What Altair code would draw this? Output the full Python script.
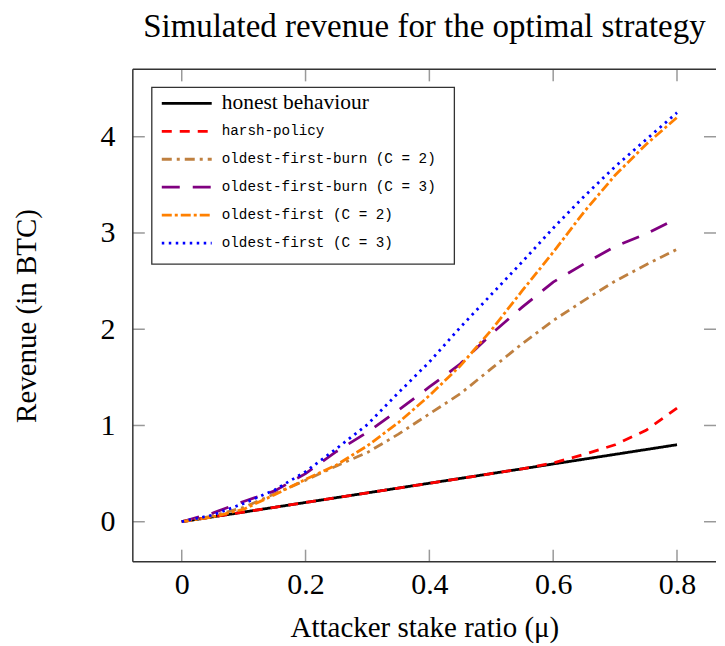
import altair as alt
import pandas as pd

# ---- data ----
mu = [0.0, 0.05, 0.1, 0.15, 0.2, 0.25, 0.3, 0.35, 0.4, 0.45, 0.5, 0.55, 0.6, 0.65, 0.7, 0.75, 0.8]

honest = [0.0, 0.05, 0.1, 0.15, 0.2, 0.25, 0.3, 0.35, 0.4, 0.45, 0.5, 0.55, 0.6, 0.65, 0.7, 0.75, 0.8]
harsh = [0.0, 0.05, 0.1, 0.15, 0.2, 0.25, 0.3, 0.35, 0.4, 0.45, 0.5, 0.55, 0.61, 0.70, 0.80, 0.95, 1.18]
ofb2 = [0.0, 0.06, 0.15, 0.29, 0.43, 0.58, 0.72, 0.91, 1.12, 1.33, 1.59, 1.85, 2.09, 2.30, 2.50, 2.67, 2.83]
ofb3 = [0.0, 0.09, 0.21, 0.32, 0.50, 0.73, 0.93, 1.16, 1.40, 1.64, 1.95, 2.23, 2.49, 2.68, 2.86, 2.99, 3.15]
of2 = [0.0, 0.05, 0.13, 0.28, 0.44, 0.59, 0.79, 1.03, 1.31, 1.62, 1.99, 2.40, 2.80, 3.22, 3.60, 3.92, 4.20]
of3 = [0.0, 0.07, 0.19, 0.33, 0.52, 0.76, 1.01, 1.34, 1.66, 2.02, 2.36, 2.70, 3.05, 3.38, 3.69, 3.97, 4.25]

names = [
    "honest behaviour",
    "harsh-policy",
    "oldest-first-burn (C = 2)",
    "oldest-first-burn (C = 3)",
    "oldest-first (C = 2)",
    "oldest-first (C = 3)",
]
series_values = [honest, harsh, ofb2, ofb3, of2, of3]
colors = ["#000000", "#ff0000", "#bf8040", "#800080", "#ff8000", "#0000ff"]
dashes = [[1, 0], [10, 8], [10, 5, 3, 5], [18, 13], [10, 3, 3, 3], [2.5, 4.5]]

x_ticks = [0, 0.2, 0.4, 0.6, 0.8]
y_ticks = [0, 1, 2, 3, 4]

rows = []
for name, vals in zip(names, series_values):
    for xv, yv in zip(mu, vals):
        rows.append({"series": name, "mu": xv, "rev": yv})
df = pd.DataFrame(rows)
legdf = pd.DataFrame({"series": names, "row": list(range(len(names)))})

W, H = 584, 493
SERIF = "Liberation Serif"
MONO = "Liberation Mono"

xscale = alt.Scale(domain=[-0.079, 0.863], nice=False, zero=False)
yscale = alt.Scale(domain=[-0.415, 4.70], nice=False, zero=False)
cscale = alt.Scale(domain=names, range=colors)
dscale = alt.Scale(domain=names, range=dashes)
# legend layout scale (row index -> pixel row centre inside the plot area)
rowscale = alt.Scale(domain=[0, len(names) - 1], range=[34, 174], nice=False, zero=False)

lines = alt.Chart(df).mark_line(strokeWidth=2.8, strokeCap="butt").encode(
    x=alt.X("mu:Q", scale=xscale, axis=alt.Axis(
        values=x_ticks, title="Attacker stake ratio (μ)", grid=False, domain=False,
        ticks=False, tickSize=0, labelPadding=8, titlePadding=14,
        labelFont=SERIF, labelFontSize=30, titleFont=SERIF, titleFontSize=29,
        titleFontWeight="normal", labelColor="#000", titleColor="#000",
        format=".1~f", labelFlush=False)),
    y=alt.Y("rev:Q", scale=yscale, axis=alt.Axis(
        values=y_ticks, title="Revenue (in BTC)", grid=False, domain=False,
        ticks=False, tickSize=0, labelPadding=18, titlePadding=58,
        labelFont=SERIF, labelFontSize=30, titleFont=SERIF, titleFontSize=29,
        titleFontWeight="normal", labelColor="#000", titleColor="#000",
        format="d", labelFlush=False)),
    color=alt.Color("series:N", scale=cscale, legend=None),
    strokeDash=alt.StrokeDash("series:N", scale=dscale, legend=None),
    order=alt.Order("mu:Q"),
)

xt = pd.DataFrame({"v": x_ticks})
yt = pd.DataFrame({"v": y_ticks})
one = pd.DataFrame({"a": [0]})
TICK = "#999999"

xb = alt.Chart(xt).mark_rule(color=TICK, strokeWidth=1.5).encode(
    x=alt.X("v:Q", scale=xscale), y=alt.value(H), y2=alt.value(H - 12))
xtp = alt.Chart(xt).mark_rule(color=TICK, strokeWidth=1.5).encode(
    x=alt.X("v:Q", scale=xscale), y=alt.value(0), y2=alt.value(12))
yl = alt.Chart(yt).mark_rule(color=TICK, strokeWidth=1.5).encode(
    y=alt.Y("v:Q", scale=yscale, axis=None), x=alt.value(0), x2=alt.value(12))
yr = alt.Chart(yt).mark_rule(color=TICK, strokeWidth=1.5).encode(
    y=alt.Y("v:Q", scale=yscale, axis=None), x=alt.value(W - 12), x2=alt.value(W))

FR = "#333333"
top = alt.Chart(one).mark_rule(color=FR, strokeWidth=1.5).encode(
    x=alt.value(0), x2=alt.value(W), y=alt.value(0))
bottom = alt.Chart(one).mark_rule(color=FR, strokeWidth=1.5).encode(
    x=alt.value(0), x2=alt.value(W), y=alt.value(H))
left = alt.Chart(one).mark_rule(color=FR, strokeWidth=1.5).encode(
    x=alt.value(0), y=alt.value(0), y2=alt.value(H))

# ---- legend, drawn inside the plot ----
legbox = alt.Chart(one).mark_rect(fill="white", stroke="#333333", strokeWidth=1.3).encode(
    x=alt.value(19), x2=alt.value(322), y=alt.value(18), y2=alt.value(195))
legsym = alt.Chart(legdf).mark_rule(strokeWidth=2.8, strokeCap="butt").encode(
    x=alt.value(29), x2=alt.value(79),
    y=alt.Y("row:Q", scale=rowscale, axis=None),
    color=alt.Color("series:N", scale=cscale, legend=None),
    strokeDash=alt.StrokeDash("series:N", scale=dscale, legend=None),
)
legtxt_mono = alt.Chart(legdf).transform_filter(alt.datum.row > 0).mark_text(
    align="left", baseline="middle", font=MONO, fontSize=14.3, color="#000").encode(
    x=alt.value(89), y=alt.Y("row:Q", scale=rowscale, axis=None), text="series:N")
legtxt_serif = alt.Chart(legdf).transform_filter(alt.datum.row == 0).mark_text(
    align="left", baseline="middle", font=SERIF, fontSize=21.5, color="#000").encode(
    x=alt.value(89), y=alt.Y("row:Q", scale=rowscale, axis=None), text="series:N")

chart = alt.layer(
    xb, xtp, yl, yr, lines, top, bottom, left, legbox, legsym, legtxt_mono, legtxt_serif
).resolve_scale(y="independent").properties(
    width=W, height=H,
    padding={"left": 5, "top": 2, "right": 0, "bottom": 2},
    title=alt.TitleParams(
        "Simulated revenue for the optimal strategy",
        font=SERIF, fontSize=33, fontWeight="normal", color="#000",
        anchor="middle", frame="group", offset=25),
).configure_view(stroke=None)

chart.save("out.html", embed_options={"renderer": "svg", "actions": False})
